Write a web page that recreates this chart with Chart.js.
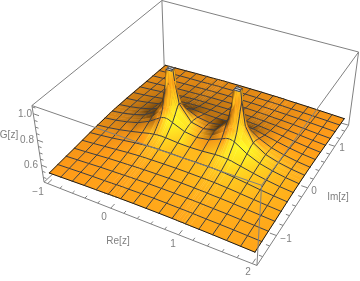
<!DOCTYPE html>
<html>
<head>
<meta charset="utf-8">
<script src="https://cdn.jsdelivr.net/npm/chart.js@4/dist/chart.umd.min.js"></script>
<style>
  html, body { margin: 0; padding: 0; background: #fff; }
  #wrap { width: 360px; height: 281px; }
</style>
</head>
<body>
<div id="wrap"><canvas id="surfaceChart" width="360" height="281"></canvas></div>
<script>
// grid lines of the surface (extra lines sit around the two spikes)
const reValues = [-1, -0.8125, -0.625, -0.4375, -0.25, -0.125, -0.0625, -0.04, 0, 0.04, 0.0625, 0.125, 0.3125, 0.5, 0.6875, 0.875, 0.9375, 0.96, 1, 1.04, 1.0625, 1.125, 1.25, 1.4375, 1.625, 1.8125, 2];
const imValues = [-1.5, -1.3125, -1.125, -0.9375, -0.75, -0.5625, -0.375, -0.1875, -0.125, -0.0625, -0.04, 0, 0.04, 0.0625, 0.125, 0.1875, 0.375, 0.5625, 0.75, 0.9375, 1.125, 1.3125, 1.5];
const reMesh = [-1, -0.8125, -0.625, -0.4375, -0.25, -0.0625, 0.125, 0.3125, 0.5, 0.6875, 0.875, 1.0625, 1.25, 1.4375, 1.625, 1.8125, 2];
const imMesh = [-1.5, -1.3125, -1.125, -0.9375, -0.75, -0.5625, -0.375, -0.1875, 0, 0.1875, 0.375, 0.5625, 0.75, 0.9375, 1.125, 1.3125, 1.5];

// G[z], one row per im value (front to back)
const gValues = [
  [.526,.529,.532,.535,.537,.538,.539,.540,.540,.540,.541,.541,.542,.542,.542,.541,.541,.540,.540,.540,.539,.538,.537,.535,.532,.529,.526],
  [.530,.534,.538,.541,.543,.545,.546,.547,.547,.548,.548,.548,.550,.551,.550,.548,.548,.548,.547,.547,.546,.545,.543,.541,.538,.534,.530],
  [.534,.539,.544,.549,.552,.554,.555,.556,.556,.557,.557,.558,.560,.560,.560,.558,.557,.557,.556,.556,.555,.554,.552,.549,.544,.539,.534],
  [.537,.543,.550,.557,.562,.564,.566,.567,.567,.568,.568,.570,.572,.573,.572,.570,.568,.568,.567,.567,.566,.564,.562,.557,.550,.543,.537],
  [.542,.549,.558,.567,.576,.580,.582,.582,.583,.584,.584,.585,.587,.588,.587,.585,.584,.584,.583,.582,.582,.580,.576,.567,.558,.549,.542],
  [.546,.555,.566,.580,.593,.600,.603,.604,.605,.606,.607,.607,.608,.606,.608,.607,.607,.606,.605,.604,.603,.600,.593,.580,.566,.555,.546],
  [.550,.560,.575,.594,.616,.631,.636,.637,.640,.640,.641,.640,.632,.629,.632,.640,.641,.640,.640,.637,.636,.631,.616,.594,.575,.560,.550],
  [.552,.564,.582,.607,.650,.692,.712,.717,.722,.721,.718,.703,.662,.648,.662,.703,.718,.721,.722,.717,.712,.692,.650,.607,.582,.564,.552],
  [.553,.565,.583,.611,.661,.726,.767,.781,.792,.785,.773,.738,.671,.655,.671,.738,.773,.785,.792,.781,.767,.726,.661,.611,.583,.565,.553],
  [.553,.566,.584,.614,.673,.764,.866,.913,.966,.917,.871,.776,.677,.658,.677,.776,.871,.917,.966,.913,.866,.764,.673,.614,.584,.566,.553],
  [.553,.566,.585,.615,.674,.778,.913,1.05,1.05,1.05,.918,.790,.678,.659,.678,.790,.918,1.05,1.05,1.05,.913,.778,.674,.615,.585,.566,.553],
  [.553,.566,.585,.615,.676,.787,.964,1.05,1.05,1.05,.969,.799,.680,.659,.680,.799,.969,1.05,1.05,1.05,.964,.787,.676,.615,.585,.566,.553],
  [.553,.566,.585,.615,.674,.778,.913,1.05,1.05,1.05,.918,.790,.678,.659,.678,.790,.918,1.05,1.05,1.05,.913,.778,.674,.615,.585,.566,.553],
  [.553,.566,.584,.614,.673,.764,.866,.913,.966,.917,.871,.776,.677,.658,.677,.776,.871,.917,.966,.913,.866,.764,.673,.614,.584,.566,.553],
  [.553,.565,.583,.611,.661,.726,.767,.781,.792,.785,.773,.738,.671,.655,.671,.738,.773,.785,.792,.781,.767,.726,.661,.611,.583,.565,.553],
  [.552,.564,.582,.607,.650,.692,.712,.717,.722,.721,.718,.703,.662,.648,.662,.703,.718,.721,.722,.717,.712,.692,.650,.607,.582,.564,.552],
  [.550,.560,.575,.594,.616,.631,.636,.637,.640,.640,.641,.640,.632,.629,.632,.640,.641,.640,.640,.637,.636,.631,.616,.594,.575,.560,.550],
  [.546,.555,.566,.580,.593,.600,.603,.604,.605,.606,.607,.607,.608,.606,.608,.607,.607,.606,.605,.604,.603,.600,.593,.580,.566,.555,.546],
  [.542,.549,.558,.567,.576,.580,.582,.582,.583,.584,.584,.585,.587,.588,.587,.585,.584,.584,.583,.582,.582,.580,.576,.567,.558,.549,.542],
  [.537,.543,.550,.557,.562,.564,.566,.567,.567,.568,.568,.570,.572,.573,.572,.570,.568,.568,.567,.567,.566,.564,.562,.557,.550,.543,.537],
  [.534,.539,.544,.549,.552,.554,.555,.556,.556,.557,.557,.558,.560,.560,.560,.558,.557,.557,.556,.556,.555,.554,.552,.549,.544,.539,.534],
  [.530,.534,.538,.541,.543,.545,.546,.547,.547,.548,.548,.548,.550,.551,.550,.548,.548,.548,.547,.547,.546,.545,.543,.541,.538,.534,.530],
  [.526,.529,.532,.535,.537,.538,.539,.540,.540,.540,.541,.541,.542,.542,.542,.541,.541,.540,.540,.540,.539,.538,.537,.535,.532,.529,.526]
];
const gClip = 1.05; // spikes are cut off here

const reTicks = [-1, -0.8, -0.6, -0.4, -0.2, 0, 0.2, 0.4, 0.6, 0.8, 1, 1.2, 1.4, 1.6, 1.8, 2];
const imTicks = [-1.4, -1.2, -1, -0.8, -0.6, -0.4, -0.2, 0, 0.2, 0.4, 0.6, 0.8, 1, 1.2, 1.4];
const gTicks = [0.5, 0.55, 0.6, 0.65, 0.7, 0.75, 0.8, 0.85, 0.9, 0.95, 1, 1.05];
const reMajor = [-1, 0, 1, 2];
const imMajor = [-1, 0, 1];
const gMajor = [0.6, 0.8, 1];

const textLabels = [
  ["1.0", 25, 114], ["0.8", 27, 140], ["0.6", 31, 165], ["G[z]", 9, 135],
  ["\u22121", 38, 192], ["0", 104, 217], ["1", 173, 244], ["2", 248, 272], ["Re[z]", 118, 241],
  ["\u22121", 286, 239], ["0", 314, 191], ["1", 342, 148], ["Im[z]", 338, 197]
];

// camera
const viewPoint = [1.3, -2.4, 2];
const boxRatio = [1, 1, 0.4];
const reRange = [-1.06, 2.06];
const imRange = [-1.56, 1.56];
const gRange = [0.46, 1.06];
const pixelsPerUnit = 785;
const originX = 203.4;
const originY = 116.2;
const lightDir = [0.25, -0.3, 0.92];

const dist = Math.hypot(...viewPoint);
const dirD = viewPoint.map((v) => v / dist);
const rLen = Math.hypot(viewPoint[0], viewPoint[1]);
const dirR = [-viewPoint[1] / rLen, viewPoint[0] / rLen, 0];
const dirU = [
  dirD[1] * dirR[2] - dirD[2] * dirR[1],
  dirD[2] * dirR[0] - dirD[0] * dirR[2],
  dirD[0] * dirR[1] - dirD[1] * dirR[0],
];
const dot = (a, b) => a[0] * b[0] + a[1] * b[1] + a[2] * b[2];

const toBox = (re, im, g) => [
  ((re - reRange[0]) / (reRange[1] - reRange[0]) - 0.5) * boxRatio[0],
  ((im - imRange[0]) / (imRange[1] - imRange[0]) - 0.5) * boxRatio[1],
  ((g - gRange[0]) / (gRange[1] - gRange[0]) - 0.5) * boxRatio[2],
];

const project = (re, im, g) => {
  const p = toBox(re, im, g);
  const den = dist - dot(p, dirD);
  return { x: dot(p, dirR) / den, y: dot(p, dirU) / den };
};

const depthOf = (re, im, g) => dist - dot(toBox(re, im, g), dirD);

// polyline helper, NaN point breaks the line
const gap = { x: NaN, y: NaN };
const edge = (a, b) => [project(...a), project(...b), gap];

const [r0, r1] = reRange;
const [i0, i1] = imRange;
const [g0, g1] = gRange;

const backEdges = [
  ...edge([r0, i0, g0], [r0, i1, g0]),
  ...edge([r0, i1, g0], [r1, i1, g0]),
  ...edge([r0, i1, g0], [r0, i1, g1]),
  ...edge([r0, i1, g1], [r0, i0, g1]),
  ...edge([r0, i1, g1], [r1, i1, g1]),
  ...edge([r1, i1, g1], [r1, i1, g0]),
];
const frontEdges = [
  ...edge([r0, i0, g0], [r1, i0, g0]),
  ...edge([r1, i0, g0], [r1, i1, g0]),
  ...edge([r0, i0, g0], [r0, i0, g1]),
  ...edge([r1, i0, g0], [r1, i0, g1]),
  ...edge([r0, i0, g1], [r1, i0, g1]),
  ...edge([r1, i0, g1], [r1, i1, g1]),
];

const tickMarks = [
  ...reTicks.flatMap((t) => edge([t, i0, g0], [t, i0 + (reMajor.includes(t) ? 0.09 : 0.05), g0])),
  ...imTicks.flatMap((t) => edge([r1, t, g0], [r1 - (imMajor.includes(t) ? 0.09 : 0.05), t, g0])),
  ...gTicks.flatMap((t) => edge([r0, i0, t], [r0 + (gMajor.some((m) => Math.abs(m - t) < 1e-6) ? 0.09 : 0.05), i0, t])),
];

const surfaceNodes = imValues.flatMap((im, j) => reValues.map((re, i) => project(re, im, gValues[j][i])));

const nodeAt = (meta, i, j) => meta.data[j * reValues.length + i];

const boxAt = (i, j) => toBox(reValues[i], imValues[j], gValues[j][i]);

// brightness at a grid node, from the normal of its neighbours
const lightAt = (i, j) => {
  const nx = reValues.length;
  const ny = imValues.length;
  const l = boxAt(Math.max(i - 1, 0), j);
  const r = boxAt(Math.min(i + 1, nx - 1), j);
  const f = boxAt(i, Math.max(j - 1, 0));
  const b = boxAt(i, Math.min(j + 1, ny - 1));
  const u = [r[0] - l[0], r[1] - l[1], r[2] - l[2]];
  const v = [b[0] - f[0], b[1] - f[1], b[2] - f[2]];
  const n = [u[1] * v[2] - u[2] * v[1], u[2] * v[0] - u[0] * v[2], u[0] * v[1] - u[1] * v[0]];
  const len = Math.hypot(...n) || 1;
  const nw = n.map((q) => q / len);
  const nv = [dot(nw, dirR), dot(nw, dirU), dot(nw, dirD)];
  const nl = dot(nv, lightDir);
  const light = nl > 0 ? 0.55 + 1.45 * nl * (0.4 + 0.6 * nw[2]) : 0.55 + 1.6 * nl;
  return Math.max(0.35, light);
};

const lightColor = (light) => {
  const rgb = [255, 155, 24].map((q) => Math.min(255, Math.round(q * light)));
  return `rgb(${rgb[0]},${rgb[1]},${rgb[2]})`;
};

const surfacePainter = {
  id: "surfacePainter",
  afterDatasetDraw(chart, args) {
    if (chart.data.datasets[args.index].label !== "surface") return;
    const ctx = chart.ctx;
    const meta = args.meta;
    const nx = reValues.length;
    const ny = imValues.length;
    const isCap = (i, j) => {
      if (i < 0 || j < 0 || i >= nx - 1 || j >= ny - 1) return false;
      return [[i, j], [i + 1, j], [i + 1, j + 1], [i, j + 1]].every(([a, b]) => gValues[b][a] >= gClip);
    };
    const cellFill = (corners, pts) => {
      const lights = corners.map(([a, b]) => lightAt(a, b));
      const lo = lights.indexOf(Math.min(...lights));
      const hi = lights.indexOf(Math.max(...lights));
      if (lo === hi) return lightColor(lights[lo]);
      const grad = ctx.createLinearGradient(pts[lo].x, pts[lo].y, pts[hi].x, pts[hi].y);
      grad.addColorStop(0, lightColor(lights[lo]));
      grad.addColorStop(1, lightColor(lights[hi]));
      return grad;
    };
    const items = [];
    const cellDepth = (i, j) => {
      if (i < 0 || j < 0 || i >= nx - 1 || j >= ny - 1) return Infinity;
      const g = (gValues[j][i] + gValues[j][i + 1] + gValues[j + 1][i] + gValues[j + 1][i + 1]) / 4;
      return depthOf((reValues[i] + reValues[i + 1]) / 2, (imValues[j] + imValues[j + 1]) / 2, g);
    };
    for (let j = 0; j < ny - 1; j++) {
      for (let i = 0; i < nx - 1; i++) {
        const corners = [[i, j], [i + 1, j], [i + 1, j + 1], [i, j + 1]];
        const pts = corners.map(([a, b]) => nodeAt(meta, a, b));
        const color = isCap(i, j) ? "#d9dddd" : cellFill(corners, pts);
        items.push({ depth: cellDepth(i, j), pts, color });
      }
    }
    // mesh and outline segments are drawn right after the cells next to them
    const pushEdge = (a, b, c1, c2, outline) => {
      const d1 = cellDepth(...c1);
      const d2 = cellDepth(...c2);
      const near = Math.min(d1, d2);
      items.push({ depth: near - 1e-6, line: [a, b], outline });
    };
    for (let j = 0; j < ny; j++) {
      for (let i = 0; i < nx - 1; i++) {
        const boundary = j === 0 || j === ny - 1;
        const capSplit = isCap(i, j) !== isCap(i, j - 1);
        if (boundary || capSplit || imMesh.includes(imValues[j])) {
          pushEdge(nodeAt(meta, i, j), nodeAt(meta, i + 1, j), [i, j], [i, j - 1], boundary);
        }
      }
    }
    for (let i = 0; i < nx; i++) {
      for (let j = 0; j < ny - 1; j++) {
        const boundary = i === 0 || i === nx - 1;
        const capSplit = isCap(i, j) !== isCap(i - 1, j);
        if (boundary || capSplit || reMesh.includes(reValues[i])) {
          pushEdge(nodeAt(meta, i, j), nodeAt(meta, i, j + 1), [i, j], [i - 1, j], boundary);
        }
      }
    }
    items.sort((p, q) => q.depth - p.depth);
    ctx.save();
    ctx.lineJoin = "round";
    ctx.lineCap = "round";
    items.forEach((it) => {
      ctx.beginPath();
      if (it.line) {
        ctx.moveTo(it.line[0].x, it.line[0].y);
        ctx.lineTo(it.line[1].x, it.line[1].y);
        ctx.strokeStyle = it.outline ? "#1a1a1a" : "rgb(60,60,65)";
        ctx.lineWidth = 1;
        ctx.stroke();
      } else {
        it.pts.forEach((p, k) => (k ? ctx.lineTo(p.x, p.y) : ctx.moveTo(p.x, p.y)));
        ctx.closePath();
        ctx.fillStyle = it.color;
        ctx.strokeStyle = it.color;
        ctx.lineWidth = 0.5;
        ctx.fill();
        ctx.stroke();
      }
    });
    ctx.restore();
  },
  afterDraw(chart) {
    const ctx = chart.ctx;
    ctx.save();
    ctx.font = "10px 'Liberation Sans'";
    ctx.fillStyle = "#808080";
    ctx.textAlign = "center";
    ctx.textBaseline = "middle";
    textLabels.forEach(([txt, x, y]) => ctx.fillText(txt, x, y));
    ctx.restore();
  },
};

const lineSet = (label, data, order, color) => ({
  label,
  data,
  order,
  showLine: true,
  pointRadius: 0,
  borderColor: color,
  borderWidth: 1,
  fill: false,
  spanGaps: false,
});

new Chart(document.getElementById("surfaceChart"), {
  type: "scatter",
  data: {
    datasets: [
      lineSet("back", backEdges, 5, "#808080"),
      { label: "surface", data: surfaceNodes, order: 4, pointRadius: 0, showLine: false },
      lineSet("front", frontEdges, 2, "#808080"),
      lineSet("ticks", tickMarks, 1, "#808080"),
    ],
  },
  options: {
    responsive: false,
    animation: false,
    layout: { padding: 0 },
    plugins: { legend: { display: false }, tooltip: { enabled: false }, title: { display: false } },
    scales: {
      x: { type: "linear", display: false, min: -originX / pixelsPerUnit, max: (360 - originX) / pixelsPerUnit },
      y: { type: "linear", display: false, min: -(281 - originY) / pixelsPerUnit, max: originY / pixelsPerUnit },
    },
  },
  plugins: [surfacePainter],
});
</script>
</body>
</html>
